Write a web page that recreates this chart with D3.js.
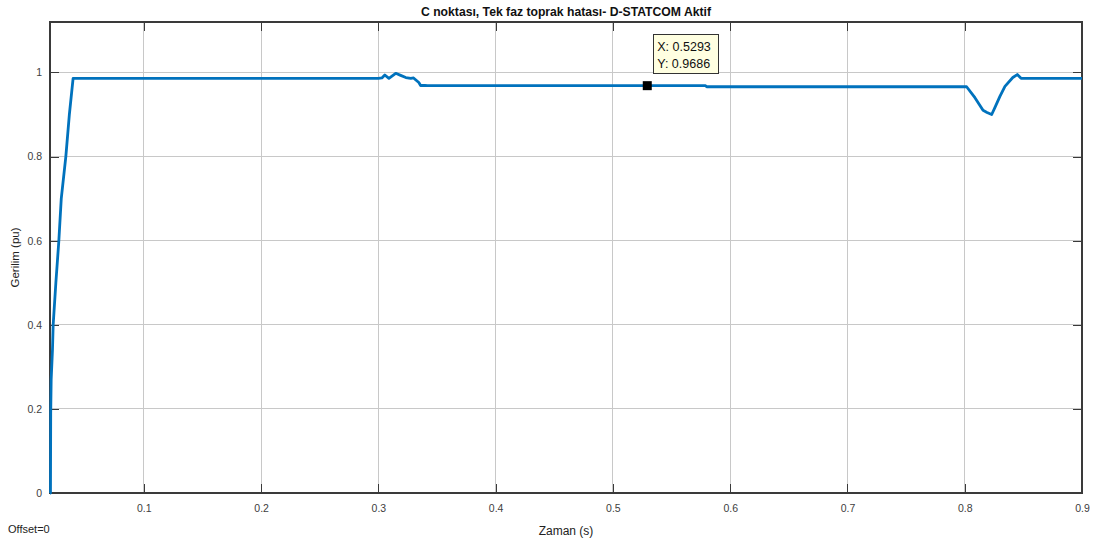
<!DOCTYPE html>
<html>
<head>
<meta charset="utf-8">
<script src="https://cdn.jsdelivr.net/npm/d3@7"></script>
<style>
  html, body { margin: 0; padding: 0; background: #fff; }
  svg { display: block; font-family: "Liberation Sans", Arial, Helvetica, sans-serif; }
</style>
</head>
<body>
<svg id="chart" width="1101" height="540"></svg>
<script>
// Voltage at point C during a single-phase-to-ground fault, D-STATCOM active
const timeS = [
  0.0200, 0.0204, 0.0206, 0.0210, 0.0221, 0.0227, 0.0250, 0.0275, 0.0296, 0.0335,
  0.0365, 0.0397, 0.3000, 0.3030, 0.3055, 0.3090, 0.3148, 0.3190, 0.3234, 0.3277,
  0.3300, 0.3345, 0.3360, 0.3397, 0.3420, 0.5293, 0.5790, 0.5800, 0.8016, 0.8087,
  0.8156, 0.8190, 0.8230, 0.8258, 0.8300, 0.8343, 0.8410, 0.8448, 0.8480, 0.9000
];
const voltagePu = [
  0.000, 0.000, 0.190, 0.270, 0.340, 0.400, 0.500, 0.598, 0.700, 0.800,
  0.900, 0.986, 0.986, 0.987, 0.994, 0.986, 0.998, 0.993, 0.988, 0.986,
  0.987, 0.976, 0.969, 0.969, 0.9686, 0.9686, 0.9686, 0.966, 0.966, 0.940,
  0.910, 0.905, 0.900, 0.917, 0.943, 0.967, 0.988, 0.995, 0.986, 0.986
];
const xTicks = [0.1, 0.2, 0.3, 0.4, 0.5, 0.6, 0.7, 0.8, 0.9];
const yTicks = [0, 0.2, 0.4, 0.6, 0.8, 1];
const xDomain = [0.02, 0.9];
const yDomain = [0, 1.12];
const tipPoint = { t: 0.5293, v: 0.9686 };

const titleText = "C noktası, Tek faz toprak hatası- D-STATCOM Aktif";
const xLabel = "Zaman (s)";
const yLabel = "Gerilim (pu)";
const offsetText = "Offset=0";

const svg = d3.select("#chart");
const pLeft = 50, pRight = 1082, pTop = 22, pBottom = 493;
const x = d3.scaleLinear().domain(xDomain).range([pLeft, pRight]);
const y = d3.scaleLinear().domain(yDomain).range([pBottom, pTop]);

const axisColor = "#3a3a3a";
const gridColor = "#c8c8c8";
const textColor = "#404040";
const tickLen = 9;

// grid
const grid = svg.append("g");
grid.selectAll("line.gx").data(xTicks).join("line")
  .attr("x1", d => x(d)).attr("x2", d => x(d))
  .attr("y1", pTop).attr("y2", pBottom)
  .attr("stroke", gridColor).attr("stroke-width", 1).attr("shape-rendering", "crispEdges");
grid.selectAll("line.gy").data(yTicks).join("line")
  .attr("x1", pLeft).attr("x2", pRight)
  .attr("y1", d => y(d)).attr("y2", d => y(d))
  .attr("stroke", gridColor).attr("stroke-width", 1).attr("shape-rendering", "crispEdges");

// axes with inward ticks on all four sides
function styleAxis(g) {
  g.select(".domain").remove();
  g.selectAll(".tick line").attr("stroke", axisColor).attr("shape-rendering", "crispEdges");
  g.selectAll(".tick text").attr("fill", textColor).attr("font-size", "10.5px")
    .attr("font-family", "Liberation Sans, Arial, sans-serif");
}
svg.append("g").attr("transform", `translate(0,${pBottom})`)
  .call(d3.axisBottom(x).tickValues(xTicks).tickFormat(d3.format("")).tickSizeInner(-tickLen).tickSizeOuter(0).tickPadding(12))
  .call(styleAxis);
svg.append("g").attr("transform", `translate(0,${pTop})`)
  .call(d3.axisTop(x).tickValues(xTicks).tickFormat("").tickSizeInner(-tickLen).tickSizeOuter(0))
  .call(styleAxis);
svg.append("g").attr("transform", `translate(${pLeft},0)`)
  .call(d3.axisLeft(y).tickValues(yTicks).tickFormat(d3.format("")).tickSizeInner(-tickLen).tickSizeOuter(0).tickPadding(8))
  .call(styleAxis);
svg.append("g").attr("transform", `translate(${pRight},0)`)
  .call(d3.axisRight(y).tickValues(yTicks).tickFormat("").tickSizeInner(-tickLen).tickSizeOuter(0))
  .call(styleAxis);

// box
svg.append("rect").attr("x", pLeft).attr("y", pTop)
  .attr("width", pRight - pLeft).attr("height", pBottom - pTop)
  .attr("fill", "none").attr("stroke", axisColor).attr("stroke-width", 1.2)
  .attr("shape-rendering", "crispEdges");

// signal
const pts = timeS.map((t, i) => [t, voltagePu[i]]);
svg.append("path")
  .datum(pts)
  .attr("fill", "none")
  .attr("stroke", "#0072BD")
  .attr("stroke-width", 2.8)
  .attr("stroke-linejoin", "round")
  .attr("d", d3.line().x(d => x(d[0])).y(d => y(d[1])));

// data tip
const mx = x(tipPoint.t), my = y(tipPoint.v);
svg.append("rect").attr("x", mx - 4.5).attr("y", my - 4.5).attr("width", 9).attr("height", 9)
  .attr("fill", "#000");
const tip = svg.append("g");
tip.append("rect").attr("x", mx + 6).attr("y", my - 51).attr("width", 65).attr("height", 39)
  .attr("fill", "#ffffe1").attr("stroke", "#333").attr("stroke-width", 1)
  .attr("shape-rendering", "crispEdges");
tip.append("text").attr("x", mx + 10).attr("y", my - 35).attr("font-size", "12.5px").attr("fill", "#111")
  .text("X: " + tipPoint.t.toFixed(4));
tip.append("text").attr("x", mx + 10).attr("y", my - 18).attr("font-size", "12.5px").attr("fill", "#111")
  .text("Y: " + tipPoint.v.toFixed(4));

// labels
svg.append("text").attr("x", (pLeft + pRight) / 2).attr("y", 16)
  .attr("text-anchor", "middle").attr("font-size", "12.2px").attr("font-weight", "bold").attr("fill", "#111")
  .text(titleText);
svg.append("text").attr("x", (pLeft + pRight) / 2).attr("y", 535)
  .attr("text-anchor", "middle").attr("font-size", "12px").attr("fill", "#222")
  .text(xLabel);
svg.append("text").attr("transform", `translate(19,${(pTop + pBottom) / 2}) rotate(-90)`)
  .attr("text-anchor", "middle").attr("font-size", "11.5px").attr("fill", "#222")
  .text(yLabel);
svg.append("text").attr("x", 8).attr("y", 533)
  .attr("font-size", "11px").attr("fill", "#222")
  .text(offsetText);
</script>
</body>
</html>
